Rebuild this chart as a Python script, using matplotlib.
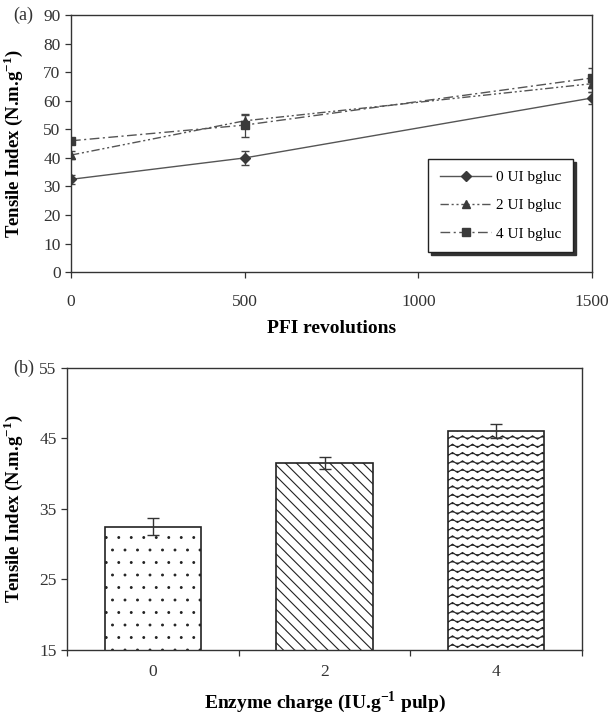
import numpy as np
import matplotlib
matplotlib.use('Agg')
import matplotlib.pyplot as plt
from matplotlib import hatch as mhatch
from matplotlib.path import Path

plt.rcParams['font.family'] = ['Liberation Serif', 'DejaVu Serif']
plt.rcParams['mathtext.fontset'] = 'custom'
plt.rcParams['mathtext.rm'] = 'Liberation Serif'
plt.rcParams['mathtext.bf'] = 'Liberation Serif:bold'
plt.rcParams['hatch.linewidth'] = 0.8
plt.rcParams['hatch.color'] = '#333333'


# wavy hatch: replaces the '-' pattern (not used otherwise here)
class WaveHatch(mhatch.HatchPatternBase):
    periods = 10

    def __init__(self, hatch, density):
        self.num_rows = int((hatch.count('-') + hatch.count('+')) * density)
        self.npts = self.periods * 4 + 1
        self.num_vertices = self.num_rows * self.npts

    def set_vertices_and_codes(self, vertices, codes):
        rows, step = np.linspace(0.0, 1.0, self.num_rows, False, retstep=True)
        rows += step / 2.
        xs = np.linspace(0.0, 1.0, self.npts)
        offs = step * 0.2 * np.sin(2 * np.pi * self.periods * xs)
        for i, r in enumerate(rows):
            sl = slice(i * self.npts, (i + 1) * self.npts)
            vertices[sl, 0] = xs
            vertices[sl, 1] = r + offs
            codes[sl] = Path.LINETO
            codes[i * self.npts] = Path.MOVETO


# sparser dots than the stock '.' pattern
class SparseDots(mhatch.SmallFilledCircles):
    size = 0.07

    def __init__(self, hatch, density):
        self.num_rows = hatch.count('.') * 4
        mhatch.Circles.__init__(self, hatch, density)


swap = {mhatch.HorizontalHatch: WaveHatch, mhatch.SmallFilledCircles: SparseDots}
mhatch._hatch_types = [swap.get(h, h) for h in mhatch._hatch_types]

# ---- data (a)
pfi = [0, 500, 1500]
ti_0 = [32.5, 40.0, 61.0]
ti_0_err = [1.5, 2.5, 2.0]
ti_2 = [41.0, 53.0, 66.0]
ti_2_err = [1.5, 2.0, 3.0]
ti_4 = [46.0, 51.5, 68.0]
ti_4_err = [1.0, 4.0, 3.5]
labels_a = ['0 UI bgluc', '2 UI bgluc', '4 UI bgluc']

# ---- data (b)
charge = ['0', '2', '4']
ti_b = [32.5, 41.5, 46.0]
ti_b_err = [1.2, 0.8, 1.0]
hatches = ['..', '\\\\\\', '--']

fig = plt.figure(figsize=(6.11, 7.2), dpi=100)
ax1 = fig.add_axes([0.1162, 0.622, 0.853, 0.357])
ax2 = fig.add_axes([0.1097, 0.0972, 0.843, 0.392])

line_col = '#555555'
mk_col = '#3a3a3a'
styles = ['-', (0, (6, 2, 1.5, 2, 1.5, 2)), (0, (7, 2.5, 1.5, 2.5))]
markers = ['D', '^', 's']
sizes = [5, 6, 5.5]
handles = []
for y, e, ls, m, s, lab in zip([ti_0, ti_2, ti_4], [ti_0_err, ti_2_err, ti_4_err],
                               styles, markers, sizes, labels_a):
    c = ax1.errorbar(pfi, y, yerr=e, color=line_col, lw=1.0, ls=ls,
                     marker=m, ms=s, mfc=mk_col, mec=mk_col, capsize=3,
                     ecolor='#444444', elinewidth=0.9, label=lab)
    handles.append(c[0])

ylab = 'Tensile Index (N.m.g$^{\\mathbf{-1}}$)'
ax1.set_xlim(0, 1500)
ax1.set_ylim(0, 90)
ax1.set_xticks([0, 500, 1000, 1500])
ax1.set_yticks(range(0, 91, 10))
ax1.set_xlabel('PFI revolutions', fontsize=14, fontweight='bold', labelpad=7)
ax1.set_ylabel(ylab, fontsize=13.5, fontweight='bold')
ax1.yaxis.set_label_coords(-0.088, 0.5)
leg = ax1.legend(handles, labels_a, loc='lower right',
                 bbox_to_anchor=(0.963, 0.078),
                 fancybox=False, edgecolor='#222222',
                 shadow={'color': '#333333', 'alpha': 1.0},
                 fontsize=11, handlelength=3.4, handletextpad=0.3,
                 labelspacing=0.95, borderpad=0.75, borderaxespad=0)
leg.get_frame().set_linewidth(1.0)

# ---- (b) bars
pos = np.arange(len(charge))
ax2.bar(pos, ti_b, width=0.56, bottom=0, color='white', edgecolor='#222222',
        linewidth=1.2, hatch=hatches, zorder=2)
ax2.errorbar(pos, ti_b, yerr=ti_b_err, fmt='none', ecolor='#333333',
             elinewidth=1.0, capsize=4, zorder=3)
ax2.set_xlim(-0.5, 2.5)
ax2.set_ylim(15, 55)
ax2.set_yticks([15, 25, 35, 45, 55])
ax2.set_xticks([-0.5, 0.5, 1.5, 2.5])
ax2.set_xticklabels([])
ax2.set_xticks(pos, charge, minor=True)
ax2.tick_params(axis='x', which='minor', length=0, pad=10)
ax2.set_xlabel('Enzyme charge (IU.g$^{\\mathbf{-1}}$ pulp)', fontsize=14,
               fontweight='bold', labelpad=7)
ax2.set_ylabel(ylab, fontsize=13.5, fontweight='bold')
ax2.yaxis.set_label_coords(-0.081, 0.5)

for ax in (ax1, ax2):
    for sp in ax.spines.values():
        sp.set_color('#333333')
        sp.set_linewidth(1.0)
    ax.tick_params(axis='both', which='major', direction='out', length=4,
                   width=0.9, color='#333333', labelsize=12.5,
                   labelcolor='#333333')
    ax.tick_params(axis='x', which='minor', labelsize=12.5,
                   labelcolor='#333333')
    ax.tick_params(axis='x', which='major', pad=12)

fig.text(0.022, 1 - 15 / 720, '(a)', fontsize=13, va='center', color='#333333')
fig.text(0.022, 1 - 368 / 720, '(b)', fontsize=13, va='center', color='#333333')

fig.savefig('out.png', dpi=100)
